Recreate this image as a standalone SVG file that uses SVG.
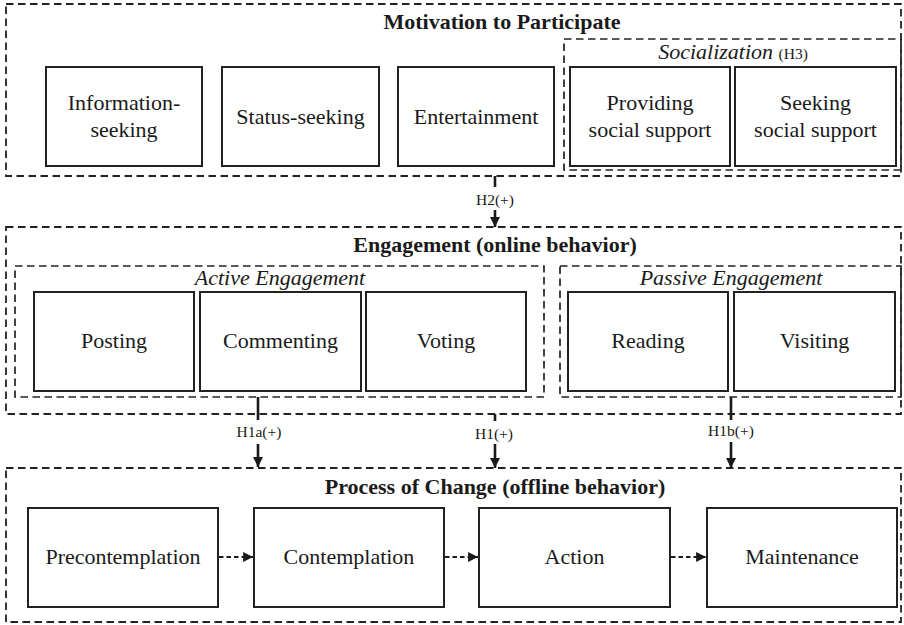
<svg xmlns="http://www.w3.org/2000/svg" width="904" height="625" viewBox="0 0 904 625">
<style>
.bg{fill:#fff}
.outer{fill:none;stroke:#222;stroke-width:1.8;stroke-dasharray:7.5 4.5}
.inner{fill:none;stroke:#222;stroke-width:1.7;stroke-dasharray:7.5 4.5}
.box{fill:#fff;stroke:#222;stroke-width:2}
text{font-family:"Liberation Serif",Tinos,"Times New Roman","DejaVu Serif",serif}
.t{font-size:22px;fill:#1a1a1a;text-anchor:middle}
.title{font-size:22px;font-weight:bold;fill:#1a1a1a;text-anchor:middle}
.it{font-style:italic}
.lab{font-size:15.5px;fill:#1a1a1a;text-anchor:middle}
.conn{fill:none;stroke:#1a1a1a;stroke-width:2.6}
.dconn{fill:none;stroke:#1a1a1a;stroke-width:1.8;stroke-dasharray:4.5 3}
</style>
<defs>
<marker id="ah" viewBox="0 0 10 10" refX="10" refY="5" markerWidth="4" markerHeight="4" markerUnits="strokeWidth" orient="auto">
<path d="M0,0 L10,5 L0,10 z" fill="#1a1a1a"/>
</marker>
<marker id="ahs" viewBox="0 0 10 10" refX="10" refY="5" markerWidth="5.5" markerHeight="5.5" markerUnits="strokeWidth" orient="auto">
<path d="M0,0 L10,5 L0,10 z" fill="#1a1a1a"/>
</marker>
</defs>
<rect class="bg" x="0" y="0" width="904" height="625"/>

<g id="motivation">
<rect class="outer" x="6" y="4" width="895" height="172"/>
<text class="title" x="502" y="29">Motivation to Participate</text>
<g id="info-seeking"><rect class="box" x="46" y="67" width="156" height="99"/><text class="t" x="124" y="110">Information-</text><text class="t" x="124" y="137">seeking</text></g>
<g id="status-seeking"><rect class="box" x="222" y="67" width="157" height="99"/><text class="t" x="300.5" y="124">Status-seeking</text></g>
<g id="entertainment"><rect class="box" x="398" y="67" width="156" height="99"/><text class="t" x="476" y="124">Entertainment</text></g>
<g id="socialization">
<rect class="inner" x="564" y="39" width="337" height="131"/>
<text class="t" x="733" y="59"><tspan class="it">Socialization</tspan> <tspan font-size="15.5">(H3)</tspan></text>
<g id="providing"><rect class="box" x="570" y="67" width="160" height="99"/><text class="t" x="650" y="110">Providing</text><text class="t" x="650" y="137">social support</text></g>
<g id="seeking"><rect class="box" x="735" y="67" width="161" height="99"/><text class="t" x="815.5" y="110">Seeking</text><text class="t" x="815.5" y="137">social support</text></g>
</g>
</g>

<g id="engagement">
<rect class="outer" x="6" y="227" width="895" height="187"/>
<text class="title" x="495" y="252">Engagement (online behavior)</text>
<g id="active">
<rect class="inner" x="15" y="266" width="529" height="131"/>
<text class="t it" x="280" y="285">Active Engagement</text>
<g id="posting"><rect class="box" x="34" y="292" width="160" height="99"/><text class="t" x="114" y="348">Posting</text></g>
<g id="commenting"><rect class="box" x="200" y="292" width="161" height="99"/><text class="t" x="280.5" y="348">Commenting</text></g>
<g id="voting"><rect class="box" x="366" y="292" width="160" height="99"/><text class="t" x="446" y="348">Voting</text></g>
</g>
<g id="passive">
<rect class="inner" x="560" y="266" width="341" height="131"/>
<text class="t it" x="731" y="285">Passive Engagement</text>
<g id="reading"><rect class="box" x="568" y="292" width="160" height="99"/><text class="t" x="648" y="348">Reading</text></g>
<g id="visiting"><rect class="box" x="734" y="292" width="161" height="99"/><text class="t" x="814.5" y="348">Visiting</text></g>
</g>
</g>

<g id="process">
<rect class="outer" x="6" y="468" width="895" height="154"/>
<text class="title" x="495" y="494">Process of Change (offline behavior)</text>
<g id="precontemplation"><rect class="box" x="28" y="508" width="190" height="99"/><text class="t" x="123" y="564">Precontemplation</text></g>
<g id="contemplation"><rect class="box" x="254" y="508" width="190" height="99"/><text class="t" x="349" y="564">Contemplation</text></g>
<g id="action"><rect class="box" x="479" y="508" width="191" height="99"/><text class="t" x="574.5" y="564">Action</text></g>
<g id="maintenance"><rect class="box" x="707" y="508" width="190" height="99"/><text class="t" x="802" y="564">Maintenance</text></g>
</g>

<g id="connectors">
<path class="conn" d="M495,176 V187"/>
<text class="lab" x="495" y="205">H2(+)</text>
<path class="conn" d="M495,210 V227" marker-end="url(#ah)"/>

<path class="conn" d="M258,397 V420"/>
<text class="lab" x="259" y="437">H1a(+)</text>
<path class="conn" d="M258,444 V467" marker-end="url(#ah)"/>

<path class="conn" d="M495,414 V421"/>
<text class="lab" x="494" y="439">H1(+)</text>
<path class="conn" d="M495,444 V468" marker-end="url(#ah)"/>

<path class="conn" d="M731,397 V420"/>
<text class="lab" x="731" y="436">H1b(+)</text>
<path class="conn" d="M731,442 V468" marker-end="url(#ah)"/>

<path class="dconn" d="M219,557 H253" marker-end="url(#ahs)"/>
<path class="dconn" d="M445,557 H478" marker-end="url(#ahs)"/>
<path class="dconn" d="M671,557 H706" marker-end="url(#ahs)"/>
</g>
</svg>
